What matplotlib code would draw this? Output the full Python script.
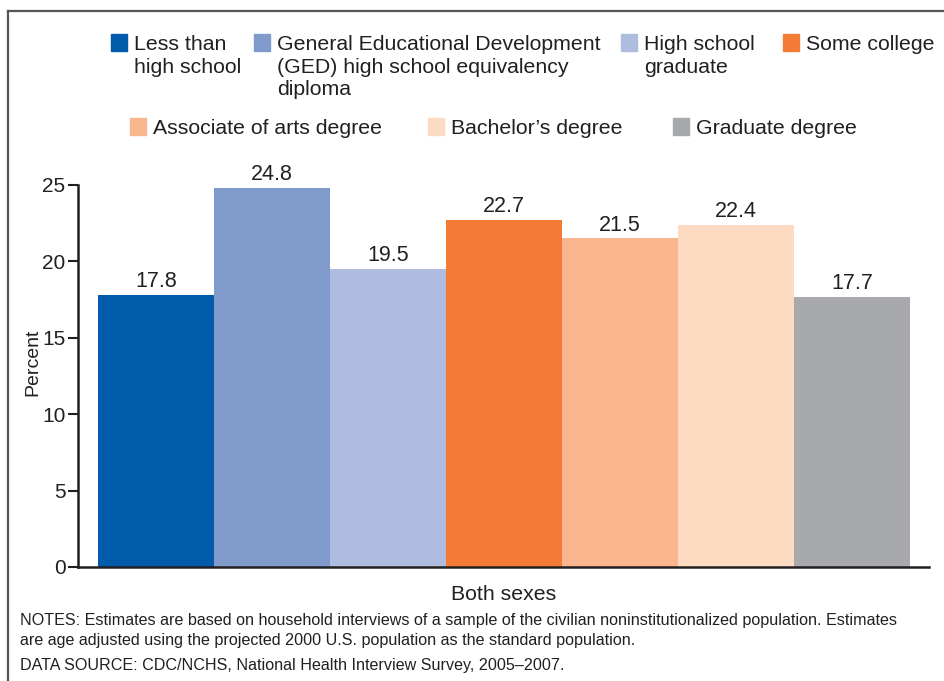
import matplotlib
matplotlib.use("Agg")
import matplotlib.pyplot as plt
from matplotlib.patches import Rectangle
from matplotlib.lines import Line2D

plt.rcParams['font.family'] = ['Liberation Sans', 'DejaVu Sans']

categories = ["Less than\nhigh school",
              "General Educational Development\n(GED) high school equivalency\ndiploma",
              "High school\ngraduate",
              "Some college",
              "Associate of arts degree",
              "Bachelor\u2019s degree",
              "Graduate degree"]
values = [17.8, 24.8, 19.5, 22.7, 21.5, 22.4, 17.7]
colors = ["#005BAA", "#7F9ACB", "#AEBCE0", "#F47B36", "#F9B68F", "#FDDAC2", "#A7A9AC"]
yticks = [0, 5, 10, 15, 20, 25]
group_label = "Both sexes"
ylabel = "Percent"
notes = ("NOTES: Estimates are based on household interviews of a sample of the civilian noninstitutionalized population. Estimates\n"
         "are age adjusted using the projected 2000 U.S. population as the standard population.")
source = "DATA SOURCE: CDC/NCHS, National Health Interview Survey, 2005\u20132007."

W, H = 944, 681
TXT = "#231f20"
fig = plt.figure(figsize=(W / 100, H / 100), dpi=100)

def fx(px):
    return px / W

def fy(py):
    return 1 - py / H

# outer frame (top and left)
fig.add_artist(Line2D([fx(8), 1.0], [fy(11), fy(11)], color="#555555", lw=1.6))
fig.add_artist(Line2D([fx(8), fx(8)], [fy(11), 0.0], color="#555555", lw=1.6))

ax = fig.add_axes([fx(78), fy(567), fx(929) - fx(78), (567 - 185) / H])
x = list(range(len(values)))
ax.bar(x, values, width=1.0, color=colors, edgecolor="none")
for xi, v in zip(x, values):
    ax.annotate(f"{v:.1f}", (xi, v), xytext=(0, 2), textcoords="offset points",
                ha="center", va="bottom", fontsize=15.5, color=TXT)
ax.set_xlim(-0.5 - 20 / 116, len(values) - 0.5 + 19 / 116)
ax.set_ylim(0, 25)
ax.set_yticks(yticks)
ax.set_xticks([])
for s in ["top", "right"]:
    ax.spines[s].set_visible(False)
for s in ["left", "bottom"]:
    ax.spines[s].set_color(TXT)
    ax.spines[s].set_linewidth(1.8)
ax.tick_params(axis="y", direction="out", length=7, width=1.5, color=TXT,
               labelsize=15, labelcolor=TXT, pad=2)
ax.set_ylabel(ylabel, fontsize=14, color=TXT)
ax.yaxis.set_label_coords(-(78 - 41) / 851, (567 - 362) / 382)
ax.set_xlabel(group_label, fontsize=15.3, color=TXT, labelpad=13)

# legend (manual layout)
leg_pos = [(111, 34), (254, 34), (621, 34), (783, 34), (130, 118), (428, 118), (673, 118)]
sq = 17
for (px, py), lab, c in zip(leg_pos, categories, colors):
    fig.add_artist(Rectangle((fx(px), fy(py + sq)), 16 / W, sq / H, color=c,
                             transform=fig.transFigure))
    fig.text(fx(px + 16 + 7), fy(py + 1), lab, ha="left", va="top", fontsize=15.3,
             color=TXT, linespacing=1.24)

fig.text(fx(20), fy(613), notes, ha="left", va="top", fontsize=11.6, color=TXT,
         linespacing=1.38)
fig.text(fx(20), fy(658), source, ha="left", va="top", fontsize=11.6, color=TXT)

fig.savefig("out.png", dpi=100)
